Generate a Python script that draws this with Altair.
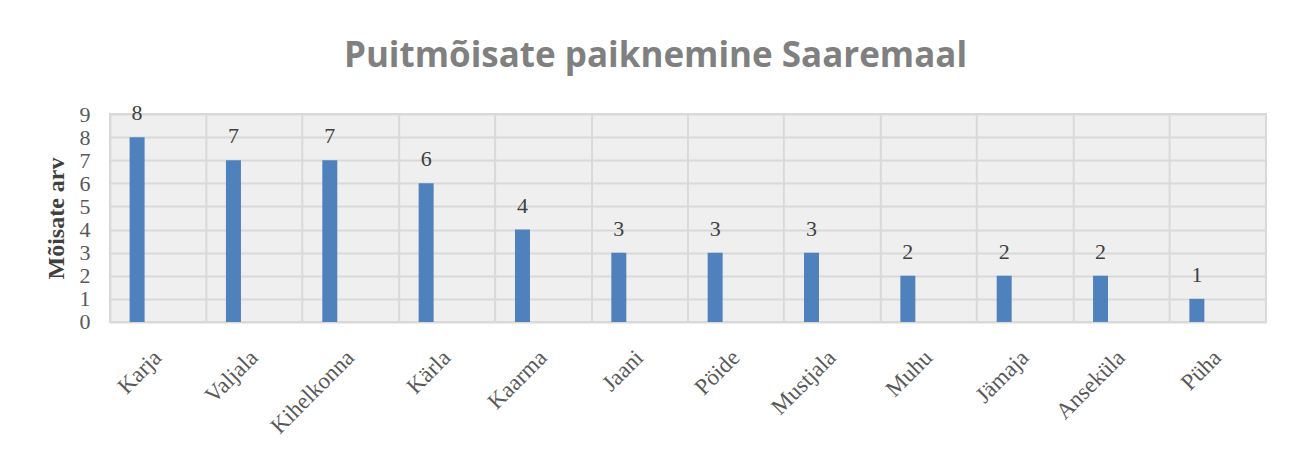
import altair as alt
import pandas as pd

categories = ["Karja", "Valjala", "Kihelkonna", "Kärla", "Kaarma", "Jaani",
              "Pöide", "Mustjala", "Muhu", "Jämaja", "Ansekül" + "a", "Püha"]
values = [8, 7, 7, 6, 4, 3, 3, 3, 2, 2, 2, 1]

df = pd.DataFrame({"vald": categories, "arv": values})

serif = "Liberation Serif"
xenc = alt.X("vald:N", sort=categories, title=None,
             scale=alt.Scale(paddingInner=0, paddingOuter=0),
             axis=alt.Axis(labelAngle=-45, labelAlign="right", labelBaseline="top",
                           labelFont=serif, labelFontSize=23, labelColor="#595959",
                           labelPadding=24, labelOffset=-8, ticks=False, domain=False,
                           labelOverlap=False,
                           grid=True, bandPosition=0, gridColor="#d9d9d9", gridWidth=2))
yenc = alt.Y("arv:Q", title="Mõisate arv",
             scale=alt.Scale(domain=[0, 9], nice=False),
             axis=alt.Axis(values=list(range(10)), tickCount=10, labelFont=serif,
                           labelFontSize=22, labelColor="#595959", ticks=False,
                           domain=False, labelOverlap=False,
                           gridColor="#d9d9d9", gridWidth=2, labelPadding=20,
                           titleFont=serif, titleFontSize=24, titleFontWeight="bold",
                           titleColor="#404040", titlePadding=10))

base = alt.Chart(df).encode(x=xenc, y=yenc)
bars = base.mark_bar(size=15, xOffset=-21, color="#4f81bd")
labels = base.mark_text(xOffset=-21, dy=-12, baseline="bottom", font=serif,
                        fontSize=22, color="#404040").encode(text="arv:Q")

chart = (bars + labels).properties(
    width=1157, height=208,
    title=alt.TitleParams("Puitmõisate paiknemine Saaremaal", font="Open Sans",
                          fontSize=35, fontWeight="bold", color="#808080",
                          anchor="middle", frame="bounds", offset=28),
    padding={"left": 37, "top": 31, "right": 30, "bottom": 5},
).configure_view(fill="#efefef", stroke="#d9d9d9", strokeWidth=2)

chart.save("out.html", embed_options={"renderer": "svg", "actions": False})
